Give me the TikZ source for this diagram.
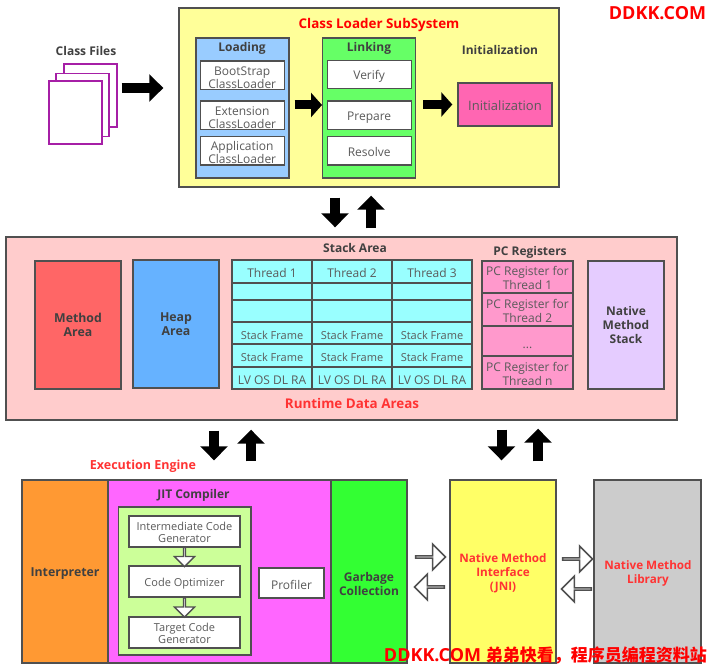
\documentclass[tikz,border=0pt]{standalone}
\usepackage{fontspec}
\usepackage{tikz}
\usetikzlibrary{arrows.meta,shapes.arrows}
\setmainfont{Open Sans}
\newfontfamily\cjkfont{Noto Sans CJK SC}
\definecolor{edge}{HTML}{505050}
\definecolor{ink}{HTML}{404040}
\definecolor{note}{HTML}{5A5A5A}
\definecolor{hot}{HTML}{FF3333}
\definecolor{page}{HTML}{A61FA6}
\definecolor{loaderfill}{HTML}{FFFF99}
\definecolor{loadingfill}{HTML}{99CCFF}
\definecolor{linkingfill}{HTML}{66FF66}
\definecolor{initfill}{HTML}{FF66B2}
\definecolor{runtimefill}{HTML}{FFCCCC}
\definecolor{methodfill}{HTML}{FF6666}
\definecolor{heapfill}{HTML}{66B2FF}
\definecolor{cellfill}{HTML}{99FFFF}
\definecolor{pcfill}{HTML}{FF99CC}
\definecolor{stackfill}{HTML}{E5CCFF}
\definecolor{interpfill}{HTML}{FF9933}
\definecolor{jitfill}{HTML}{FF66FF}
\definecolor{innerfill}{HTML}{CCFF99}
\definecolor{gcfill}{HTML}{33FF33}
\definecolor{jnifill}{HTML}{FFFF66}
\definecolor{libfill}{HTML}{CCCCCC}
\tikzset{
  box/.style={draw=edge,line width=1.4pt,inner sep=0pt,align=center,text=note,font=\fontsize{12}{14}\selectfont,execute at begin node={\rule{0pt}{12.5pt}}},
  twoline/.style={execute at begin node={\rule{0pt}{26pt}}},
  boldbox/.style={box,text=ink,font=\fontsize{12.3}{14}\selectfont\bfseries},
  jitbox/.style={box,fill=white,minimum width=111,minimum height=31,font=\fontsize{11}{13}\selectfont},
  head/.style={text=ink,inner sep=0pt,align=center,font=\fontsize{12}{14}\selectfont\bfseries},
  redhead/.style={head,text=hot},
  bigred/.style={redhead,font=\fontsize{13.4}{15}\selectfont\bfseries},
  nativered/.style={redhead,font=\fontsize{11.7}{14}\selectfont\bfseries},
  sheet/.style={draw=page,line width=1.4pt,fill=white,minimum width=53,minimum height=63,inner sep=0pt},
  fatarrow/.style={line width=10pt,draw=black,-{Triangle[length=14pt,width=27pt]}},
  midarrow/.style={line width=9pt,draw=black,-{Triangle[length=11pt,width=24pt]}},
  hollow/.style={single arrow,draw=edge,line width=1.6pt,fill=white,inner sep=0pt,single arrow head extend=8pt,minimum width=26pt,minimum height=30pt},
  tinyhollow/.style={hollow,line width=1.4pt,single arrow head extend=6pt,minimum width=20pt,minimum height=19pt}
}
\begin{document}
\begin{tikzpicture}[x=1pt,y=-1pt]
\useasboundingbox (0,0) rectangle (709,666);
% class files
\node[head] (classfiles) at (86,51.5) {Class Files};
\node[sheet] (sheetc) at (90.5,95.5) {};
\node[sheet] (sheetb) at (82.5,105) {};
\node[sheet] (sheeta) at (75.5,112.5) {};
% class loader subsystem
\node[box,fill=loaderfill,minimum width=380,minimum height=179] (loader) at (369,97.5) {};
\node[bigred,text=red] (loadertitle) at (379,25) {Class Loader SubSystem};
\node[box,fill=loadingfill,minimum width=93,minimum height=140] (loading) at (242.3,108) {};
\node[head] (loadingtitle) at (242,48.5) {Loading};
\node[box,twoline,fill=white,minimum width=84,minimum height=28.5] (bootstrap) at (242.2,75.2) {BootStrap\\[-1pt]ClassLoader};
\node[box,twoline,fill=white,minimum width=84,minimum height=28.5] (extension) at (242.2,115.2) {Extension\\[-1pt]ClassLoader};
\node[box,twoline,fill=white,minimum width=84,minimum height=28.5] (application) at (242.2,150.7) {Application\\[-1pt]ClassLoader};
\node[box,fill=linkingfill,minimum width=93,minimum height=140] (linking) at (369.2,108) {};
\node[head] (linkingtitle) at (369,48.5) {Linking};
\node[box,fill=white,minimum width=84,minimum height=28] (verify) at (369.2,74.5) {Verify};
\node[box,fill=white,minimum width=84,minimum height=28.5] (prepare) at (369.2,115.2) {Prepare};
\node[box,fill=white,minimum width=84,minimum height=28.5] (resolve) at (369.2,150.7) {Resolve};
\node[head] (inittitle) at (500,50.5) {Initialization};
\node[box,fill=initfill,minimum width=94,minimum height=43,font=\fontsize{13}{15}\selectfont] (init) at (505,104.5) {Initialization};
\draw[fatarrow] ([xshift=4pt,yshift=7.5pt]sheetc.east) -- ([xshift=-15pt,yshift=9.5pt]loader.west);
\draw[midarrow] ([xshift=5pt,yshift=3pt]loading.east) -- ([yshift=3pt]linking.west);
\draw[midarrow] ([xshift=7pt,yshift=3.5pt]linking.east) -- ([xshift=-5pt]init.west);
\node[redhead,text=red,font=\fontsize{18}{20}\selectfont\bfseries] (brand) at (657.5,13) {DDKK.COM};
% runtime data areas
\node[box,fill=runtimefill,minimum width=671,minimum height=183] (runtime) at (341.5,328.5) {};
\draw[fatarrow] ([xshift=-34pt,yshift=-10pt]loader.south) -- ([xshift=-6.5pt,yshift=9pt]runtime.north);
\draw[fatarrow] ([xshift=29.5pt,yshift=8pt]runtime.north) -- ([xshift=2pt,yshift=-8pt]loader.south);
\node[boldbox,fill=methodfill,minimum width=86,minimum height=128] (method) at (78,325) {Method\\Area};
\node[boldbox,fill=heapfill,minimum width=86,minimum height=128] (heap) at (176,324) {Heap\\Area};
\node[head] (stacktitle) at (355,248) {Stack Area};
\foreach \col/\x in {1/272,2/352,3/432} {
  \node[box,fill=cellfill,minimum width=80,minimum height=23] (threadcell\col) at (\x,271.5) {Thread \col};
  \node[box,fill=cellfill,minimum width=80,minimum height=17] (emptya\col) at (\x,291.5) {};
  \node[box,fill=cellfill,minimum width=80,minimum height=22] (emptyb\col) at (\x,311) {};
  \node[box,fill=cellfill,minimum width=80,minimum height=22,font=\fontsize{11}{13}\selectfont] (framea\col) at (\x,333) {Stack Frame};
  \node[box,fill=cellfill,minimum width=80,minimum height=23,font=\fontsize{11}{13}\selectfont] (frameb\col) at (\x,355.5) {Stack Frame};
  \node[box,fill=cellfill,minimum width=80,minimum height=22] (lvcell\col) at (\x,378) {LV OS DL RA};
}
\node[head] (pctitle) at (530,252) {PC Registers};
\node[box,twoline,fill=pcfill,minimum width=91,minimum height=32] (pca) at (527.5,277) {PC Register for\\Thread 1};
\node[box,twoline,fill=pcfill,minimum width=91,minimum height=33] (pcb) at (527.5,309.5) {PC Register for\\Thread 2};
\node[box,fill=pcfill,minimum width=91,minimum height=30] (pcdots) at (527.5,341) {\raisebox{-3pt}{...}};
\node[box,twoline,fill=pcfill,minimum width=91,minimum height=33] (pcn) at (527.5,372.5) {PC Register for\\Thread n};
\node[boldbox,fill=stackfill,font=\fontsize{12}{14}\selectfont\bfseries,minimum width=76,minimum height=128] (nativestack) at (626,325) {Native\\Method\\Stack};
\node[bigred] (runtimetitle) at (352,403) {Runtime Data Areas};
% execution engine
\node[redhead,font=\fontsize{12.5}{14}\selectfont\bfseries] (enginetitle) at (143,466) {Execution Engine};
\node[boldbox,fill=interpfill,minimum width=86,minimum height=183] (interpreter) at (65,571.5) {Interpreter};
\node[box,fill=jitfill,minimum width=223,minimum height=183] (jit) at (219.5,571.5) {};
\node[head] (jittitle) at (193.5,495.5) {JIT Compiler};
\node[box,fill=innerfill,minimum width=132.5,minimum height=148] (jitinner) at (184.7,581) {};
\node[jitbox,execute at begin node={\rule{0pt}{22pt}}] (intermediate) at (184.5,531.5) {Intermediate Code\\[-1pt]Generator};
\node[jitbox] (optimizer) at (184.5,581.5) {Code Optimizer};
\node[jitbox,execute at begin node={\rule{0pt}{22pt}}] (target) at (184.5,632.5) {Target Code\\[-1pt]Generator};
\node[tinyhollow,shape border rotate=270] (arrowopt) at (184.5,556.5) {};
\node[tinyhollow,shape border rotate=270] (arrowtgt) at (184.5,607) {};
\node[box,fill=white,minimum width=65,minimum height=30,execute at begin node={\rule{0pt}{10.5pt}}] (profiler) at (291.5,583) {Profiler};
\node[boldbox,fill=gcfill,minimum width=76,minimum height=183] (garbage) at (369,571.5) {};
\node[head] (garbagetext) at (369,584) {Garbage\\Collection};
\node[box,fill=jnifill,minimum width=106,minimum height=183] (jni) at (503,571.5) {};
\node[nativered] (jnitext) at (503,573) {Native Method\\Interface\\(JNI)};
\node[box,fill=libfill,minimum width=107,minimum height=183] (library) at (647.5,571.5) {};
\node[nativered] (librarytext) at (648,573) {Native Method\\Library};
\draw[fatarrow] ([xshift=-127.5pt,yshift=-10pt]runtime.south) -- ([xshift=149pt,yshift=19pt]interpreter.north);
\draw[fatarrow] ([xshift=186pt,yshift=18pt]interpreter.north) -- ([xshift=-90.5pt,yshift=-9pt]runtime.south);
\draw[fatarrow] ([xshift=160pt,yshift=-9pt]runtime.south) -- ([xshift=-1.5pt,yshift=19pt]jni.north);
\draw[fatarrow] ([xshift=35pt,yshift=18pt]jni.north) -- ([xshift=196.5pt,yshift=-8pt]runtime.south);
\node[hollow] (gcright) at (430,557) {};
\node[hollow,shape border rotate=180] (gcleft) at (430,587) {};
\node[hollow] (libright) at (577,559) {};
\node[hollow,shape border rotate=180] (libleft) at (577,589) {};
% footer
\node[redhead,text=red,font=\fontsize{18}{20}\selectfont\bfseries,anchor=east] (footer) at (707,655) {DDKK.COM {\cjkfont\fontsize{17}{20}\selectfont 弟弟快看，程序员编程资料站}};
\end{tikzpicture}
\end{document}
